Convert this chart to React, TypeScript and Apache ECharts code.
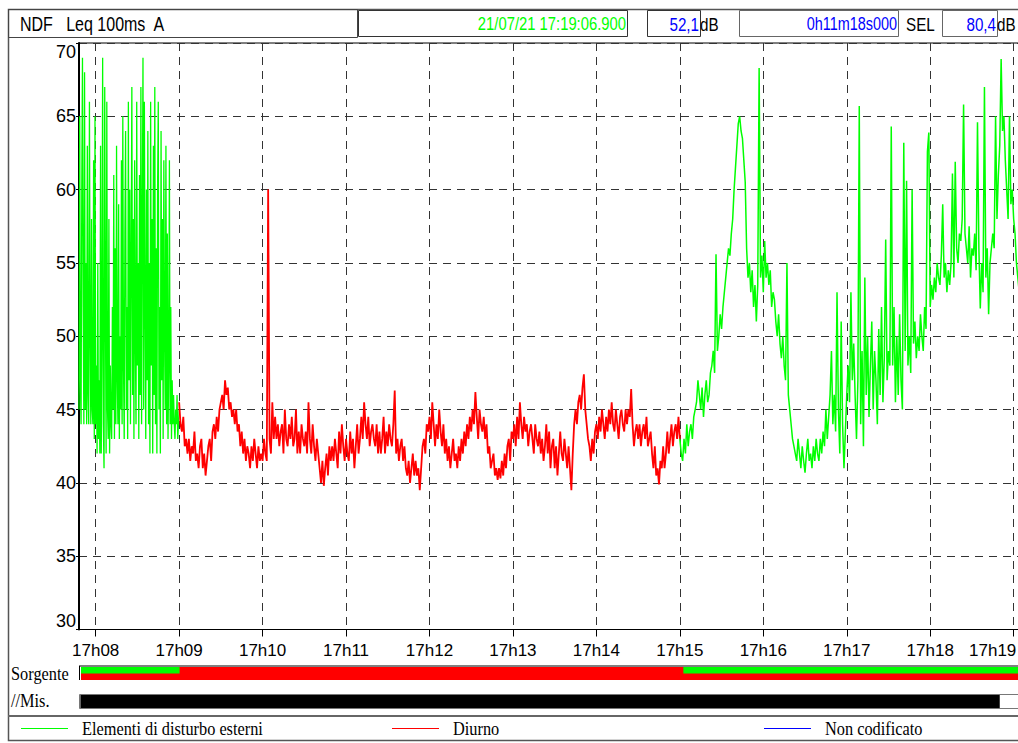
import React, { useEffect, useRef } from 'react';
import * as echarts from 'echarts';

// time axis: seconds after 17:00:00
const START_SEC = 468; // 17:07:48
const END_SEC = 1146; // 17:19:06

const tickSeconds = [480, 540, 600, 660, 720, 780, 840, 900, 960, 1020, 1080, 1140];
const tickLabels = ['17h08', '17h09', '17h10', '17h11', '17h12', '17h13', '17h14', '17h15', '17h16', '17h17', '17h18', '17h19'];

// Leq 100ms A, dB — "Elementi di disturbo esterni" (first block, 0.5 s step)
const GREEN1_START = 468;
const GREEN1_STEP = 0.5;
const green1Values = [
  45, 65, 47, 44, 60, 69, 52, 44, 68, 45, 55, 44, 63, 46, 44, 66, 50, 44, 58, 45, 44,
  62, 43, 65, 44, 48, 42, 55, 43, 47, 42,
  63, 42, 50, 69, 44, 41, 67, 52, 42, 66, 45, 43, 58, 42, 48,
  44, 43, 52, 45, 61, 43, 56, 44, 63, 47, 44, 59, 43, 50, 45,
  62, 44, 65, 48, 43, 57, 64, 45, 52, 43, 66, 47, 60, 44, 55,
  67, 46, 58, 43, 62, 50, 44, 66, 48, 55, 43, 61, 46, 67, 44,
  57, 69, 45, 66, 52, 43, 60, 47, 64, 44, 55, 42, 66, 48, 58,
  42, 63, 46, 67, 44, 56, 42, 60, 66, 45, 52, 42, 64, 47, 58,
  43, 62, 50, 45, 63, 44, 57, 43, 48, 62, 44, 52, 43, 47, 44,
  46, 44, 43, 45, 44, 46, 43, 44, 45,
];

// "Diurno" (1 s step)
const RED_START = 540;
const RED_STEP = 1;
const redValues = [
  45.5, 44, 43.5, 44.5, 42.5, 43, 42, 43, 41.5, 42.5,
  42, 43.5, 41.5, 42, 41, 42.5, 43, 41, 42, 40.5,
  41.5, 42.5, 43, 41.5, 43.5, 44, 43, 44.5, 43.5, 45,
  45.5, 46, 45, 47, 46, 46.5, 45, 45.5, 44.5, 45,
  44, 45, 43.5, 44, 42.5, 43.5, 42, 43, 41.5, 42.5,
  42, 41, 42.5, 41.5, 43, 42, 41, 42.5, 41.5, 42,
  41.5, 43, 42, 41.5, 60, 43, 42, 45.5, 43, 44.5,
  43, 44, 42.5, 43.5, 44, 42, 45, 43, 42.5, 44,
  43, 44.5, 42.5, 43, 45, 42, 43.5, 42, 44, 43,
  42.5, 43.5, 42, 45.5, 43, 42, 44, 42.5, 41.5, 43,
  42, 41, 40, 41.5, 39.8, 41, 42, 40.5, 42.5, 41.5,
  42.5, 41.5, 43, 42, 41, 43.5, 42, 44, 42.5, 41.5,
  43, 42, 41.5, 43.5, 42, 43, 41, 42.5, 44, 42,
  43, 44.5, 43, 45.5, 44, 43, 44.5, 42.5, 43.5, 44,
  43, 42.5, 44, 42, 43.5, 42, 43, 44.5, 42, 43.5,
  42.5, 44, 43, 42.5, 44, 46.3, 42, 43, 41.5, 42.5,
  43, 41.5, 42.5, 41, 40.5, 41.5, 40, 41, 42, 40.5,
  41.5, 40.5, 41, 39.5, 41, 42.5, 43, 42, 44, 43.5,
  44.5, 43, 45.5, 44, 42.5, 44, 43, 45, 43.5, 42.5,
  44, 42, 43, 41.5, 42.5, 41, 42, 43, 41.5, 42,
  41, 42.5, 41.5, 43, 42, 43.5, 42.5, 44, 43, 44.5,
  43.5, 45, 44, 46.2, 44.5, 43, 45, 44, 43.5, 44.5,
  43, 44, 42, 42.5, 41, 41.5, 42, 40.5, 41, 40.2,
  41, 40.3, 41.5, 40.5, 42, 41, 42.5, 43, 41.5, 43.5,
  43, 44, 42.5, 44.5, 43, 45.5, 44, 43, 44.5, 43.5,
  44, 42.5, 43.5, 44, 43, 42, 44, 43, 42.5, 43.5,
  42, 43, 41.5, 42.5, 44, 42, 43.5, 41, 42.5, 43,
  41, 42.5, 40.5, 42, 43.5, 42, 41.5, 43, 42, 41,
  42.5, 41, 39.5, 42, 44, 45, 44, 45.5, 46, 45,
  46.5, 47.4, 45, 44, 43, 42.5, 41.5, 43, 42, 43.5,
  44, 43, 44.5, 43.5, 45, 44, 43, 44.5, 43.5, 45,
  44, 45.5, 44, 43.5, 45, 44, 43, 44.5, 45, 44,
  43.5, 45, 44, 45, 44.5, 46.4, 44, 42.5, 43.5, 44,
  43, 44, 42.5, 43.5, 44, 43, 44.5, 42.5, 43, 43.5,
  42, 41, 42.5, 40.5, 41, 39.9, 41.5, 41, 42.5, 41,
  42, 43.5, 42, 43, 44, 42.5, 43.5, 44, 43, 44.5, 43,
];

// "Elementi di disturbo esterni" (second block, 1 s step)
const GREEN2_START = 900;
const GREEN2_STEP = 1;
const green2Values = [
  43, 42, 41.5, 43, 42, 44, 42.5, 43.5, 44, 43, 44.5, 45,
  45.5, 47, 46, 45, 46.5, 44.5, 46, 47, 45.5, 46,
  47.5, 48, 49, 47.5, 55.6,
  49, 50, 51.5, 50.5, 52, 53,
  54, 55, 56, 55.5, 57,
  58, 60, 61.5, 63,
  64.5, 65, 64, 63.5, 62,
  60.5, 56,
  54, 55, 53, 54.5, 52, 53.5, 51, 53.5,
  68.3,
  54, 55.5, 53, 56.5, 54, 55, 53.5, 54.5, 52, 53, 52.5,
  51, 50, 51.5, 49.5, 48.5, 50, 48,
  47, 55, 46, 45,
  44, 43, 42.5,
  42, 41.5, 43, 42, 41, 42.5, 41.5, 40.7, 42, 43, 41.5, 42, 41, 42.5, 41.5, 43, 42, 41.5, 43,
  42, 43.5, 42.5, 45, 43, 44.5, 46, 49,
  44, 46, 43.5, 53,
  45, 42, 51, 44, 41, 43.5, 46,
  48, 45.5, 53, 47, 49.5, 46,
  43, 47, 65.7, 44, 49, 42.5, 54,
  46, 50, 44.5, 48, 51, 45, 49, 47, 44, 50.5, 46, 52, 45.5, 48.5,
  56.6, 47, 49, 48, 64.3,
  48, 52, 45.5, 50, 46, 51.5, 47, 45,
  63.2, 49, 60.6, 48, 50, 47.5,
  60, 49.5, 51, 48.5, 50, 49, 51.5, 50, 49, 52, 50.5, 62.6,
  63.9, 52, 53.5, 52.5, 54, 53, 55, 54, 53.5, 55.5,
  59, 54, 55, 53, 54.5, 53.5, 55, 61.1, 54,
  61.9, 56, 55, 57, 56.5, 58, 65.8,
  57, 56, 55, 57.5, 54, 56, 55.5, 57, 54.5,
  64.6, 56, 51.9, 55, 53,
  67, 54, 56, 51.5, 55, 56,
  57, 56, 65, 58,
  61, 63, 68.9, 64, 65, 62, 60,
  58, 65, 59, 60,
  58, 57, 55, 54, 53, 55, 53,
];

// Sorgente / misura bands [start s, end s]
const diurnoSegments = [[468, 1146]];
const disturboSegments = [[468, 539], [902, 1146]];
const misSegments = [[469, 1130]];

const headerTitle = 'NDF   Leq 100ms  A';
const headerDate = '21/07/21 17:19:06.900';
const headerLeq = '52,1';
const headerDuration = '0h11m18s000';
const headerSel = '80,4';

const legendNames = ['Elementi di disturbo esterni', 'Diurno', 'Non codificato'];
const legendColors = ['#00ff00', '#ff0000', '#0000ff'];

const FONT_SANS = "'Liberation Sans', Arial, sans-serif";
const FONT_SERIF = "'Liberation Serif', 'Times New Roman', serif";

const GREEN = '#00ff00';
const RED = '#ff0000';
const BLUE = '#0000ff';

const toPairs = (vals: number[], start: number, step: number) => vals.map((v, i) => [start + i * step, v]);

const bandRenderer = (color: string, yTop: number, yBottom: number) => (params: any, api: any) => {
  const p0 = api.coord([api.value(0), yTop]);
  const p1 = api.coord([api.value(1), yBottom]);
  return {
    type: 'rect',
    shape: { x: p0[0], y: p0[1], width: p1[0] - p0[0], height: p1[1] - p0[1] },
    style: { fill: color },
  };
};

function buildOption() {
  const plotLeft = 79;
  const plotWidth = 943;
  const legendX = [21, 392, 764];

  const txt = (x: number, y: number, text: string, fill: string, size: number, family: string, align: string, scaleX = 1) => ({
    type: 'text',
    x,
    y,
    scaleX,
    silent: true,
    style: { text, fill, fontSize: size, fontFamily: family, align, verticalAlign: 'middle' },
  });
  const box = (x: number, y: number, w: number, h: number, stroke = '#555') => ({
    type: 'rect',
    silent: true,
    shape: { x: x + 0.5, y: y + 0.5, width: w, height: h },
    style: { fill: 'none', stroke, lineWidth: 1 },
  });
  const hline = (x1: number, x2: number, y: number, stroke: string, lw = 1) => ({
    type: 'line',
    silent: true,
    shape: { x1, y1: y, x2, y2: y },
    style: { stroke, lineWidth: lw },
  });

  const graphic: any[] = [
    // outer frame
    { type: 'rect', silent: true, shape: { x: 8.5, y: 9.5, width: 1040, height: 731 }, style: { fill: 'none', stroke: '#555', lineWidth: 1.5 } },
    // header
    box(8, 9, 349, 28, '#444'),
    box(358, 10, 269, 26, '#333'),
    box(647, 10, 53, 26, '#333'),
    box(739, 10, 159, 26, '#666'),
    box(942, 10, 55, 26, '#666'),
    txt(20, 24, headerTitle, '#000', 20, FONT_SANS, 'left', 0.8),
    txt(626, 24, headerDate, GREEN, 19, FONT_SANS, 'right', 0.78),
    txt(699, 24, headerLeq, BLUE, 19, FONT_SANS, 'right', 0.8),
    txt(700, 24, 'dB', '#000', 19, FONT_SANS, 'left', 0.8),
    txt(897, 24, headerDuration, BLUE, 19, FONT_SANS, 'right', 0.76),
    txt(906, 24, 'SEL', '#000', 19, FONT_SANS, 'left', 0.8),
    txt(996, 24, headerSel, BLUE, 19, FONT_SANS, 'right', 0.8),
    txt(997, 24, 'dB', '#000', 19, FONT_SANS, 'left', 0.8),
    // Sorgente bar decorations
    txt(11, 674, 'Sorgente', '#000', 19, FONT_SERIF, 'left', 0.86),
    hline(79, 1040, 666, '#000', 1),
    { type: 'line', silent: true, shape: { x1: 79.5, y1: 666, x2: 79.5, y2: 680 }, style: { stroke: '#000', lineWidth: 1 } },
    // Mis bar decorations
    txt(11, 701, '//Mis.', '#000', 19, FONT_SERIF, 'left', 0.86),
    box(79, 694, 970, 14, '#777'),
    // legend
    hline(8, 1040, 716, '#666', 2),
  ];
  legendNames.forEach((name, i) => {
    graphic.push({
      type: 'line',
      silent: true,
      shape: { x1: legendX[i], y1: 728.5, x2: legendX[i] + 47, y2: 728.5 },
      style: { stroke: legendColors[i], lineWidth: 1 },
    });
    graphic.push(txt(legendX[i] + 61, 729, name, '#000', 19, FONT_SERIF, 'left', 0.86));
  });

  const lineSeries = (data: number[][], color: string, width: number) => ({
    type: 'line',
    xAxisIndex: 0,
    yAxisIndex: 0,
    data,
    showSymbol: false,
    symbol: 'none',
    lineStyle: { color, width },
    itemStyle: { color },
    silent: true,
  });

  const lastTick = tickSeconds[tickSeconds.length - 1];

  return {
    animation: false,
    backgroundColor: '#fff',
    grid: [
      { left: plotLeft, top: 43, width: plotWidth, height: 586.5, show: true, borderColor: '#000', borderWidth: 1, containLabel: false, outerBoundsMode: 'none' },
      { left: plotLeft + 2, top: 667, width: plotWidth - 2, height: 13, outerBoundsMode: 'none' },
      { left: plotLeft, top: 695, width: plotWidth, height: 13, outerBoundsMode: 'none' },
    ],
    xAxis: [
      {
        type: 'value',
        gridIndex: 0,
        min: START_SEC,
        max: END_SEC,
        axisLine: { show: true, lineStyle: { color: '#000', width: 1 } },
        axisTick: { show: true, customValues: tickSeconds, length: 7, inside: false, lineStyle: { color: '#000' } },
        axisLabel: {
          show: true,
          customValues: tickSeconds,
          formatter: (v: number) => {
            const r = Math.round(v);
            const label = tickLabels[tickSeconds.indexOf(r)] ?? '';
            return r === lastTick ? '{edge|' + label + '}' : label;
          },
          color: '#000',
          fontSize: 17,
          fontFamily: FONT_SANS,
          margin: 12,
          rich: {
            edge: { fontSize: 17, fontFamily: FONT_SANS, color: '#000', padding: [0, 42, 0, 0] },
          },
        },
        splitLine: { show: true, lineStyle: { color: '#333', type: [8, 6], width: 1 } },
      },
      { type: 'value', gridIndex: 1, min: START_SEC, max: END_SEC, show: false },
      { type: 'value', gridIndex: 2, min: START_SEC, max: END_SEC, show: false },
    ],
    yAxis: [
      {
        type: 'value',
        gridIndex: 0,
        min: 30,
        max: 70,
        interval: 5,
        axisLine: { show: true, lineStyle: { color: '#000', width: 2 } },
        axisTick: { show: true, length: 3, lineStyle: { color: '#000' } },
        axisLabel: {
          color: '#000',
          fontSize: 18,
          fontFamily: FONT_SANS,
          margin: 3,
          verticalAlignMinLabel: 'bottom',
          verticalAlignMaxLabel: 'top',
        },
        splitLine: { show: true, lineStyle: { color: '#333', type: [8, 6], width: 1 } },
      },
      { type: 'value', gridIndex: 1, min: 0, max: 1, show: false },
      { type: 'value', gridIndex: 2, min: 0, max: 1, show: false },
    ],
    series: [
      lineSeries(toPairs(green1Values, GREEN1_START, GREEN1_STEP), GREEN, 1.3),
      lineSeries(toPairs(redValues, RED_START, RED_STEP), RED, 1.8),
      lineSeries(toPairs(green2Values, GREEN2_START, GREEN2_STEP), GREEN, 1.5),
      {
        type: 'custom',
        xAxisIndex: 1,
        yAxisIndex: 1,
        silent: true,
        data: diurnoSegments,
        encode: { x: [0, 1] },
        renderItem: bandRenderer(RED, 1, 0),
      },
      {
        type: 'custom',
        xAxisIndex: 1,
        yAxisIndex: 1,
        silent: true,
        data: disturboSegments,
        encode: { x: [0, 1] },
        renderItem: bandRenderer(GREEN, 1, 0.5),
      },
      {
        type: 'custom',
        xAxisIndex: 2,
        yAxisIndex: 2,
        silent: true,
        data: misSegments,
        encode: { x: [0, 1] },
        renderItem: bandRenderer('#000', 1, 0),
      },
    ],
    graphic,
  };
}

export default function App() {
  const ref = useRef<HTMLDivElement>(null);
  useEffect(() => {
    if (!ref.current) return;
    const chart = echarts.init(ref.current, null, { renderer: 'svg' });
    chart.setOption(buildOption() as any);
    return () => chart.dispose();
  }, []);
  return (
    <div style={{ position: 'fixed', left: 0, top: 0, width: 1018, height: 743, overflow: 'hidden', background: '#fff' }}>
      <div ref={ref} style={{ width: 1040, height: 743 }} />
    </div>
  );
}
